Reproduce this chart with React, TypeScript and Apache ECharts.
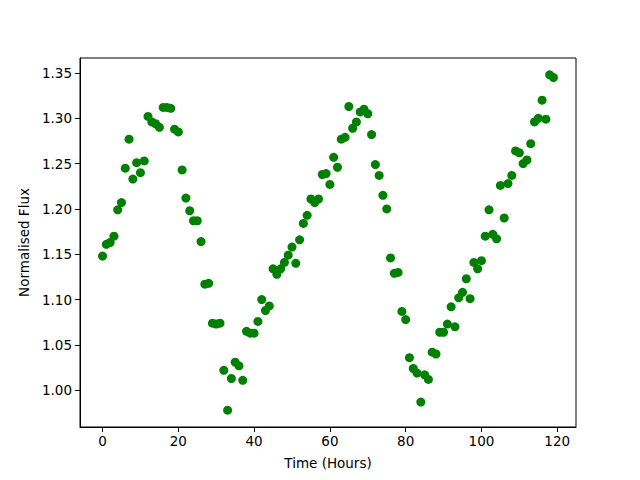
import React, { useEffect, useRef } from "react";
import * as echarts from "echarts";

const hours: number[] = Array.from({ length: 120 }, (_, i) => i);
const flux: number[] = [
  1.148, 1.161, 1.163, 1.170, 1.199, 1.207, 1.245, 1.277, 1.233, 1.251,
  1.240, 1.253, 1.302, 1.296, 1.294, 1.290, 1.312, 1.312, 1.311, 1.288,
  1.285, 1.243, 1.212, 1.198, 1.187, 1.187, 1.164, 1.117, 1.118, 1.074,
  1.073, 1.074, 1.022, 0.978, 1.013, 1.031, 1.027, 1.011, 1.065, 1.063,
  1.063, 1.076, 1.100, 1.088, 1.093, 1.134, 1.128, 1.134, 1.141, 1.149,
  1.158, 1.140, 1.166, 1.184, 1.193, 1.211, 1.207, 1.211, 1.238, 1.239,
  1.227, 1.257, 1.246, 1.277, 1.279, 1.313, 1.289, 1.296, 1.307, 1.310,
  1.305, 1.282, 1.249, 1.237, 1.215, 1.200, 1.146, 1.129, 1.130, 1.087,
  1.078, 1.036, 1.024, 1.019, 0.987, 1.017, 1.012, 1.042, 1.040, 1.064,
  1.064, 1.073, 1.092, 1.070, 1.102, 1.108, 1.123, 1.101, 1.141, 1.134,
  1.143, 1.170, 1.199, 1.172, 1.167, 1.226, 1.190, 1.228, 1.237, 1.264,
  1.262, 1.250, 1.254, 1.272, 1.296, 1.300, 1.320, 1.299, 1.348, 1.345,
];
const xTicks: number[] = [0, 20, 40, 60, 80, 100, 120];
const yTicks: number[] = [1.0, 1.05, 1.1, 1.15, 1.2, 1.25, 1.3, 1.35];

export default function App() {
  const ref = useRef<HTMLDivElement>(null);
  useEffect(() => {
    if (!ref.current) return;
    const chart = echarts.init(ref.current, undefined, { renderer: "svg" });
    const font = "DejaVu Sans";
    chart.setOption({
      animation: false,
      backgroundColor: "#ffffff",
      grid: {
        left: 80,
        top: 58,
        width: 496,
        height: 369,
        show: true,
        borderColor: "#000000",
        borderWidth: 1,
        backgroundColor: "transparent",
      },
      xAxis: {
        type: "value",
        min: -5.95,
        max: 124.95,
        name: "Time (Hours)",
        nameLocation: "middle",
        nameGap: 29,
        nameTextStyle: { color: "#000", fontFamily: font, fontSize: 13.5 },
        axisLine: { show: true, onZero: false, lineStyle: { color: "#000", width: 1 } },
        axisTick: {
          show: true,
          length: 5,
          lineStyle: { color: "#000" },
          customValues: xTicks,
        },
        axisLabel: {
          color: "#000",
          fontFamily: font,
          fontSize: 13.5,
          margin: 7,
          customValues: xTicks,
          formatter: (v: number) => String(Math.round(v)),
        },
        splitLine: { show: false },
      },
      yAxis: {
        type: "value",
        min: 0.9595,
        max: 1.3665,
        name: "Normalised Flux",
        nameLocation: "middle",
        nameGap: 45,
        nameRotate: 90,
        nameTextStyle: { color: "#000", fontFamily: font, fontSize: 13.5 },
        axisLine: { show: true, onZero: false, lineStyle: { color: "#000", width: 1 } },
        axisTick: {
          show: true,
          length: 5,
          lineStyle: { color: "#000" },
          customValues: yTicks,
        },
        axisLabel: {
          color: "#000",
          fontFamily: font,
          fontSize: 13.5,
          margin: 8,
          customValues: yTicks,
          formatter: (v: number) => v.toFixed(2),
        },
        splitLine: { show: false },
      },
      series: [
        {
          type: "scatter",
          data: hours.map((h, i) => [h, flux[i]]),
          symbol: "circle",
          symbolSize: 9,
          itemStyle: { color: "#008000", opacity: 1 },
          emphasis: { disabled: true },
        },
      ],
    });
    return () => chart.dispose();
  }, []);
  return (
    <div
      ref={ref}
      style={{ position: "absolute", left: 0, top: 0, width: 640, height: 480 }}
    />
  );
}
